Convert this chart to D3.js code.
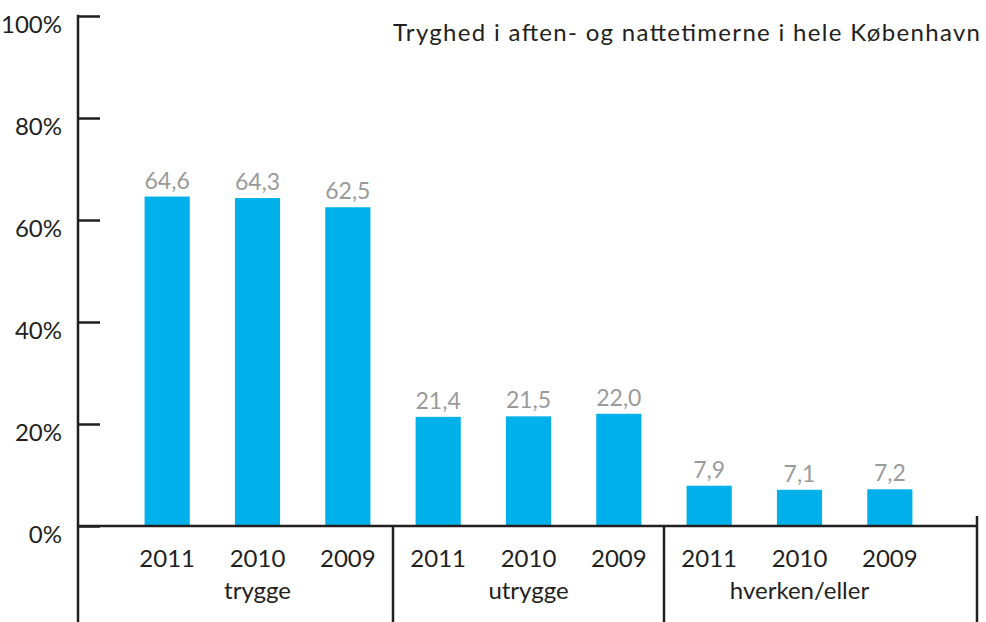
<!DOCTYPE html>
<html>
<head>
<meta charset="utf-8">
<script src="https://cdn.jsdelivr.net/npm/d3@7"></script>
<style>
    body { margin: 0; background: #fff; }
    svg text { font-family: Lato, "Open Sans", sans-serif; }
</style>
</head>
<body>
<div class="graph-goes-here"></div>
<script>
// values
var groups = ["trygge", "utrygge", "hverken/eller"];
var years = ["2011", "2010", "2009"];
var trygge = [64.6, 64.3, 62.5];
var utrygge = [21.4, 21.5, 22.0];
var hverken = [7.9, 7.1, 7.2];
var yTicks = [0, 20, 40, 60, 80, 100];
var title = "Tryghed i aften- og nattetimerne i hele København";

var width = 986, height = 622;
var axisX = 78, baseY = 526, topY = 16, rightX = 977;
var ink = "#231f20";

var svg = d3.select(".graph-goes-here")
    .append("svg")
    .attr("width", width)
    .attr("height", height);

// flatten into one row per bar
var rows = [];
[trygge, utrygge, hverken].forEach((vals, g) => {
    vals.forEach((v, i) => {
        rows.push({ key: groups[g] + "-" + years[i], group: groups[g], year: years[i], value: v, i: i })
    })
});

var x = d3.scaleBand()
    .domain(rows.map(d => d.key))
    .range([122, 935])
    .paddingInner(0.5)
    .paddingOuter(0.25);

var y = d3.scaleLinear().domain([0, 100]).range([baseY, topY]);

// bars
svg.append("g").selectAll("rect")
    .data(rows)
    .join("rect")
    .attr("x", d => x(d.key))
    .attr("y", d => y(d.value))
    .attr("width", x.bandwidth())
    .attr("height", d => y(0) - y(d.value))
    .attr("fill", "#00b0ea");

// value labels
svg.append("g").selectAll("text")
    .data(rows)
    .join("text")
    .attr("x", d => x(d.key) + x.bandwidth() / 2)
    .attr("y", d => y(d.value) - 8)
    .attr("text-anchor", "middle")
    .attr("font-size", 23)
    .attr("fill", "#9a9a9a")
    .text(d => d.value.toFixed(1).replace(".", ","));

// y axis
var yAxis = svg.append("g")
    .attr("transform", "translate(" + axisX + ",0)")
    .call(d3.axisRight(y).tickValues(yTicks).tickSize(22).tickFormat(""));
yAxis.select(".domain").remove();
yAxis.selectAll("line").attr("stroke", ink).attr("stroke-width", 2.5);

svg.append("g").selectAll("text")
    .data(yTicks)
    .join("text")
    .attr("x", 62)
    .attr("y", d => y(d) + 17)
    .attr("text-anchor", "end")
    .attr("font-size", 24)
    .attr("fill", ink)
    .text(d => d + "%");

svg.append("line")
    .attr("x1", axisX).attr("x2", axisX)
    .attr("y1", topY - 1.25).attr("y2", height)
    .attr("stroke", ink).attr("stroke-width", 2.5);

// baseline
svg.append("line")
    .attr("x1", axisX).attr("x2", rightX)
    .attr("y1", baseY).attr("y2", baseY)
    .attr("stroke", ink).attr("stroke-width", 2.5);

// group separators, midway between groups
var step = x.step();
var seps = [3, 6].map(k => x(rows[k].key) - (step - x.bandwidth()) / 2);
svg.append("g").selectAll("line")
    .data(seps)
    .join("line")
    .attr("x1", d => d).attr("x2", d => d)
    .attr("y1", baseY).attr("y2", height)
    .attr("stroke", ink).attr("stroke-width", 2.5);

svg.append("line")
    .attr("x1", rightX).attr("x2", rightX)
    .attr("y1", baseY - 10).attr("y2", height)
    .attr("stroke", ink).attr("stroke-width", 2.5);

// year labels
svg.append("g").selectAll("text")
    .data(rows)
    .join("text")
    .attr("x", d => x(d.key) + x.bandwidth() / 2)
    .attr("y", 567)
    .attr("text-anchor", "middle")
    .attr("font-size", 24)
    .attr("fill", ink)
    .text(d => d.year);

// group labels under the middle bar
svg.append("g").selectAll("text")
    .data(rows.filter(d => d.i == 1))
    .join("text")
    .attr("x", d => x(d.key) + x.bandwidth() / 2)
    .attr("y", 599)
    .attr("text-anchor", "middle")
    .attr("font-size", 24)
    .attr("fill", ink)
    .text(d => d.group);

// title (stretched a little, reference font runs wider)
svg.append("text")
    .attr("x", 393)
    .attr("y", 41)
    .attr("font-size", 24)
    .attr("textLength", 587)
    .attr("lengthAdjust", "spacing")
    .attr("fill", ink)
    .text(title);
</script>
</body>
</html>
